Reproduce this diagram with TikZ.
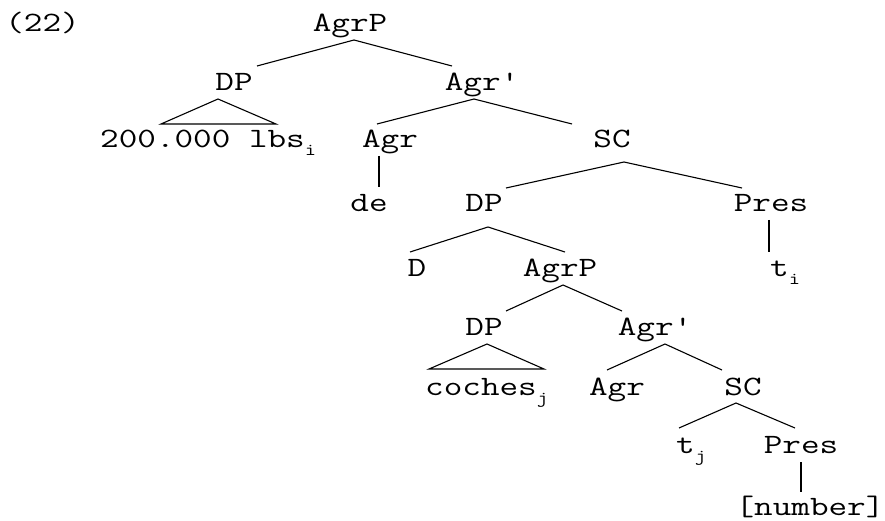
\documentclass[tikz,border=0pt]{standalone}
\usepackage{fontspec}
\newfontfamily\treemono[FakeStretch=1.29]{Latin Modern Mono}
\usetikzlibrary{calc}
\newcommand\sbs[1]{\raisebox{-8pt}{\fontsize{17}{17}\selectfont #1}}
\begin{document}
\begin{tikzpicture}[x=1pt,y=-1pt,
  lab/.style={font=\treemono\fontsize{28}{28}\selectfont, inner sep=0pt, anchor=base},
  labw/.style={lab, anchor=base west},
  edge/.style={line width=1.1pt, black}]
\useasboundingbox (0,0) rectangle (885,521);
% nodes
\node[lab] (ex) at (42.5,32) {(22)};
\node[lab] (agrp1) at (350,32) {AgrP};
\node[lab] (dp1) at (234,91) {DP};
\node[lab] (agrb1) at (482,91) {Agr'};
\node[labw] (lbs) at (100,148) {200.000 lbs\sbs{i}};
\node[lab] (agr1) at (390,148) {Agr};
\node[lab] (sc1) at (612,148) {SC};
\node[lab] (de) at (369,212) {de};
\node[lab] (dp2) at (484,212) {DP};
\node[lab] (pres1) at (771,212) {Pres};
\node[lab] (d) at (417,276) {D};
\node[lab] (agrp2) at (560,276) {AgrP};
\node[labw] (ti) at (770,276) {t\sbs{i}};
\node[lab] (dp3) at (484,335) {DP};
\node[lab] (agrb2) at (655,335) {Agr'};
\node[labw] (coches) at (425,395) {coches\sbs{j}};
\node[lab] (agr3) at (617,395) {Agr};
\node[lab] (sc3) at (743,395) {SC};
\node[labw] (tj) at (676,453) {t\sbs{j}};
\node[lab] (pres3) at (801,453) {Pres};
\node[lab] (num) at (810,515) {[number]};
% edges
\draw[edge] ($(agrp1.base)+(4,8)$) -- ($(dp1.base)+(23,-25)$);
\draw[edge] ($(agrp1.base)+(4,8)$) -- ($(agrb1.base)+(-30,-25)$);
\draw[edge] ($(dp1.base)+(-16,8)$) -- ($(lbs.base west)+(61,-24)$) -- ($(lbs.base west)+(176,-24)$) -- cycle;
\draw[edge] ($(agrb1.base)+(-8,8)$) -- ($(agr1.base)+(-13,-24)$);
\draw[edge] ($(agrb1.base)+(-8,8)$) -- ($(sc1.base)+(-40,-24)$);
\draw[edge] ($(agr1.base)+(-11,8)$) -- ($(de.base)+(10,-25)$);
\draw[edge] ($(sc1.base)+(12,14)$) -- ($(dp2.base)+(22,-24)$);
\draw[edge] ($(sc1.base)+(12,14)$) -- ($(pres1.base)+(-29,-24)$);
\draw[edge] ($(dp2.base)+(4,15)$) -- ($(d.base)+(-7,-24)$);
\draw[edge] ($(dp2.base)+(4,15)$) -- ($(agrp2.base)+(5,-24)$);
\draw[edge] ($(pres1.base)+(-2,8)$) -- ($(ti.base west)+(-1,-24)$);
\draw[edge] ($(agrp2.base)+(3,9)$) -- ($(dp3.base)+(22,-24)$);
\draw[edge] ($(agrp2.base)+(3,9)$) -- ($(agrb2.base)+(-33,-24)$);
\draw[edge] ($(dp3.base)+(3,9)$) -- ($(coches.base west)+(4,-26)$) -- ($(coches.base west)+(119,-26)$) -- cycle;
\draw[edge] ($(agrb2.base)+(10,9)$) -- ($(agr3.base)+(-10,-25)$);
\draw[edge] ($(agrb2.base)+(10,9)$) -- ($(sc3.base)+(-21,-25)$);
\draw[edge] ($(sc3.base)+(-7,8)$) -- ($(tj.base west)+(3,-25)$);
\draw[edge] ($(sc3.base)+(-7,8)$) -- ($(pres3.base)+(-6,-25)$);
\draw[edge] ($(pres3.base)+(0,9)$) -- ($(num.base)+(-9,-23)$);
\end{tikzpicture}
\end{document}
